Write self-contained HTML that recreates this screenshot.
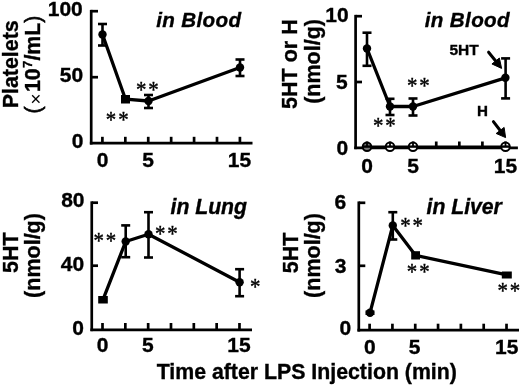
<!DOCTYPE html>
<html><head><meta charset="utf-8"><title>LPS figure</title>
<style>html,body{margin:0;padding:0;background:#fff;}svg{display:block;}</style></head>
<body><svg width="520" height="385" viewBox="0 0 520 385">
<rect width="520" height="385" fill="#fff"/>
<line x1="91.2" y1="9.85" x2="91.2" y2="144.55" stroke="#000" stroke-width="2.7"/>
<line x1="89.85" y1="143.2" x2="252.5" y2="143.2" stroke="#000" stroke-width="2.7"/>
<line x1="91.2" y1="11.2" x2="98" y2="11.2" stroke="#000" stroke-width="2.7"/>
<line x1="91.2" y1="77.2" x2="98" y2="77.2" stroke="#000" stroke-width="2.7"/>
<line x1="102.40" y1="136.8" x2="102.40" y2="143.2" stroke="#000" stroke-width="2.7"/>
<line x1="125.32" y1="136.8" x2="125.32" y2="143.2" stroke="#000" stroke-width="2.7"/>
<line x1="148.24" y1="136.8" x2="148.24" y2="143.2" stroke="#000" stroke-width="2.7"/>
<line x1="171.16" y1="136.8" x2="171.16" y2="143.2" stroke="#000" stroke-width="2.7"/>
<line x1="194.08" y1="136.8" x2="194.08" y2="143.2" stroke="#000" stroke-width="2.7"/>
<line x1="217.00" y1="136.8" x2="217.00" y2="143.2" stroke="#000" stroke-width="2.7"/>
<line x1="239.92" y1="136.8" x2="239.92" y2="143.2" stroke="#000" stroke-width="2.7"/>
<text x="82.8" y="16" font-family="Liberation Sans, Arial, Helvetica, sans-serif" font-weight="bold" font-size="21.0" text-anchor="end" stroke="#000" stroke-width="0.35" >100</text>
<text x="83.2" y="82.3" font-family="Liberation Sans, Arial, Helvetica, sans-serif" font-weight="bold" font-size="21.0" text-anchor="end" stroke="#000" stroke-width="0.35" >50</text>
<text x="83.5" y="148.3" font-family="Liberation Sans, Arial, Helvetica, sans-serif" font-weight="bold" font-size="21.0" text-anchor="end" stroke="#000" stroke-width="0.35" >0</text>
<text x="102.5" y="166.8" font-family="Liberation Sans, Arial, Helvetica, sans-serif" font-weight="bold" font-size="21.0" text-anchor="middle" stroke="#000" stroke-width="0.35" >0</text>
<text x="148" y="166.8" font-family="Liberation Sans, Arial, Helvetica, sans-serif" font-weight="bold" font-size="21.0" text-anchor="middle" stroke="#000" stroke-width="0.35" >5</text>
<text x="239.5" y="166.8" font-family="Liberation Sans, Arial, Helvetica, sans-serif" font-weight="bold" font-size="21.0" text-anchor="middle" stroke="#000" stroke-width="0.35" >15</text>
<text x="156.2" y="27" font-family="Liberation Sans, Arial, Helvetica, sans-serif" font-weight="bold" font-style="italic" font-size="20.6" letter-spacing="0.35" stroke="#000" stroke-width="0.35">in Blood</text>
<polyline points="102.5,34.5 125.5,99.2 148.5,101 240,67.5" fill="none" stroke="#000" stroke-width="3.3" stroke-linejoin="round"/>
<line x1="102.5" y1="24" x2="102.5" y2="45.5" stroke="#000" stroke-width="2.6"/>
<line x1="98.00" y1="24" x2="107.00" y2="24" stroke="#000" stroke-width="2.6"/>
<line x1="98.00" y1="45.5" x2="107.00" y2="45.5" stroke="#000" stroke-width="2.6"/>
<circle cx="102.5" cy="34.5" r="4.2" fill="#000"/>
<rect x="121" y="95" width="9.00" height="8.50" fill="#000"/>
<line x1="148.5" y1="95" x2="148.5" y2="108" stroke="#000" stroke-width="2.6"/>
<line x1="144.00" y1="95" x2="153.00" y2="95" stroke="#000" stroke-width="2.6"/>
<line x1="144.00" y1="108" x2="153.00" y2="108" stroke="#000" stroke-width="2.6"/>
<circle cx="148.5" cy="101" r="4.2" fill="#000"/>
<line x1="240" y1="59.5" x2="240" y2="76" stroke="#000" stroke-width="2.6"/>
<line x1="235.50" y1="59.5" x2="244.50" y2="59.5" stroke="#000" stroke-width="2.6"/>
<line x1="235.50" y1="76" x2="244.50" y2="76" stroke="#000" stroke-width="2.6"/>
<circle cx="240" cy="67.5" r="4.2" fill="#000"/>
<text transform="translate(105.80,126.80) scale(0.95,1.08)" font-family="Liberation Serif, Times New Roman, serif" font-size="22" letter-spacing="2" stroke="#000" stroke-width="0.4">**</text>
<text transform="translate(136.00,96.80) scale(0.95,1.08)" font-family="Liberation Serif, Times New Roman, serif" font-size="22" letter-spacing="2" stroke="#000" stroke-width="0.4">**</text>
<text transform="translate(17.5,64.3) rotate(-90)" font-family="Liberation Sans, Arial, Helvetica, sans-serif" font-weight="bold" font-size="21.4" text-anchor="middle" stroke="#000" stroke-width="0.35">Platelets</text>
<text transform="translate(40.3,113.5) rotate(-90)" font-family="Liberation Sans, Arial, Helvetica, sans-serif" font-weight="bold" font-size="21.3" stroke="#000" stroke-width="0.35"><tspan font-weight="normal" stroke-width="0.6">(</tspan><tspan font-weight="normal" stroke-width="0" font-size="19" dy="1.7" dx="2.0">×</tspan><tspan dy="-1.7" dx="1.3">10</tspan><tspan font-size="12.5" dy="-8.2" dx="0.6">7</tspan><tspan dy="8.2" dx="0.2">/mL</tspan><tspan font-weight="normal" stroke-width="0.6">)</tspan></text>
<line x1="355.6" y1="14.85" x2="355.6" y2="149.15" stroke="#000" stroke-width="2.7"/>
<line x1="354.25" y1="147.8" x2="517.9" y2="147.8" stroke="#000" stroke-width="2.7"/>
<line x1="355.6" y1="16.2" x2="362" y2="16.2" stroke="#000" stroke-width="2.7"/>
<line x1="355.6" y1="82" x2="362" y2="82" stroke="#000" stroke-width="2.7"/>
<line x1="367.00" y1="141.5" x2="367.00" y2="147.8" stroke="#000" stroke-width="2.7"/>
<line x1="390.08" y1="141.5" x2="390.08" y2="147.8" stroke="#000" stroke-width="2.7"/>
<line x1="413.16" y1="141.5" x2="413.16" y2="147.8" stroke="#000" stroke-width="2.7"/>
<line x1="436.24" y1="141.5" x2="436.24" y2="147.8" stroke="#000" stroke-width="2.7"/>
<line x1="459.32" y1="141.5" x2="459.32" y2="147.8" stroke="#000" stroke-width="2.7"/>
<line x1="482.40" y1="141.5" x2="482.40" y2="147.8" stroke="#000" stroke-width="2.7"/>
<line x1="505.48" y1="141.5" x2="505.48" y2="147.8" stroke="#000" stroke-width="2.7"/>
<text x="348.6" y="22" font-family="Liberation Sans, Arial, Helvetica, sans-serif" font-weight="bold" font-size="21.0" text-anchor="end" stroke="#000" stroke-width="0.35" >10</text>
<text x="347.8" y="88.6" font-family="Liberation Sans, Arial, Helvetica, sans-serif" font-weight="bold" font-size="21.0" text-anchor="end" stroke="#000" stroke-width="0.35" >5</text>
<text x="348.2" y="154.6" font-family="Liberation Sans, Arial, Helvetica, sans-serif" font-weight="bold" font-size="21.0" text-anchor="end" stroke="#000" stroke-width="0.35" >0</text>
<text x="367" y="172.9" font-family="Liberation Sans, Arial, Helvetica, sans-serif" font-weight="bold" font-size="21.0" text-anchor="middle" stroke="#000" stroke-width="0.35" >0</text>
<text x="413" y="172.9" font-family="Liberation Sans, Arial, Helvetica, sans-serif" font-weight="bold" font-size="21.0" text-anchor="middle" stroke="#000" stroke-width="0.35" >5</text>
<text x="505.5" y="172.9" font-family="Liberation Sans, Arial, Helvetica, sans-serif" font-weight="bold" font-size="21.0" text-anchor="middle" stroke="#000" stroke-width="0.35" >15</text>
<text x="424.8" y="27" font-family="Liberation Sans, Arial, Helvetica, sans-serif" font-weight="bold" font-style="italic" font-size="20.6" letter-spacing="0.35" stroke="#000" stroke-width="0.35">in Blood</text>
<polyline points="367,48.5 390,106.5 413,106.5 505.5,77.8" fill="none" stroke="#000" stroke-width="3.3" stroke-linejoin="round"/>
<line x1="367" y1="32.7" x2="367" y2="65.8" stroke="#000" stroke-width="2.6"/>
<line x1="362.50" y1="32.7" x2="371.50" y2="32.7" stroke="#000" stroke-width="2.6"/>
<line x1="362.50" y1="65.8" x2="371.50" y2="65.8" stroke="#000" stroke-width="2.6"/>
<circle cx="367" cy="48.5" r="4.2" fill="#000"/>
<line x1="390" y1="98.8" x2="390" y2="115" stroke="#000" stroke-width="2.6"/>
<line x1="385.50" y1="98.8" x2="394.50" y2="98.8" stroke="#000" stroke-width="2.6"/>
<line x1="385.50" y1="115" x2="394.50" y2="115" stroke="#000" stroke-width="2.6"/>
<circle cx="390" cy="106.5" r="4.2" fill="#000"/>
<line x1="413" y1="98.5" x2="413" y2="115.5" stroke="#000" stroke-width="2.6"/>
<line x1="408.50" y1="98.5" x2="417.50" y2="98.5" stroke="#000" stroke-width="2.6"/>
<line x1="408.50" y1="115.5" x2="417.50" y2="115.5" stroke="#000" stroke-width="2.6"/>
<circle cx="413" cy="106.5" r="4.2" fill="#000"/>
<line x1="505.6" y1="58.4" x2="505.6" y2="98.4" stroke="#000" stroke-width="2.6"/>
<line x1="501.10" y1="58.4" x2="510.10" y2="58.4" stroke="#000" stroke-width="2.6"/>
<line x1="501.10" y1="98.4" x2="510.10" y2="98.4" stroke="#000" stroke-width="2.6"/>
<circle cx="505.4" cy="77.8" r="4.2" fill="#000"/>
<polyline points="367,146.6 505.5,146.6" fill="none" stroke="#000" stroke-width="2.4"/>
<circle cx="367" cy="146.8" r="4.3" fill="#777" stroke="#000" stroke-width="2"/>
<line x1="367" y1="142" x2="367" y2="146.6" stroke="#000" stroke-width="1.8"/>
<line x1="363" y1="146.6" x2="371" y2="146.6" stroke="#000" stroke-width="2.4"/>
<circle cx="390" cy="146.8" r="4.3" fill="#fff" stroke="#000" stroke-width="2"/>
<line x1="390" y1="142" x2="390" y2="146.6" stroke="#000" stroke-width="1.8"/>
<line x1="386" y1="146.6" x2="394" y2="146.6" stroke="#000" stroke-width="2.4"/>
<circle cx="413" cy="146.8" r="4.3" fill="#fff" stroke="#000" stroke-width="2"/>
<line x1="413" y1="142" x2="413" y2="146.6" stroke="#000" stroke-width="1.8"/>
<line x1="409" y1="146.6" x2="417" y2="146.6" stroke="#000" stroke-width="2.4"/>
<circle cx="505.5" cy="146.8" r="4.3" fill="#fff" stroke="#000" stroke-width="2"/>
<line x1="505.5" y1="142" x2="505.5" y2="146.6" stroke="#000" stroke-width="1.8"/>
<line x1="501.5" y1="146.6" x2="509.5" y2="146.6" stroke="#000" stroke-width="2.4"/>
<text transform="translate(373.00,132.50) scale(0.95,1.08)" font-family="Liberation Serif, Times New Roman, serif" font-size="22" letter-spacing="2" stroke="#000" stroke-width="0.4">**</text>
<text transform="translate(407.00,93.00) scale(0.95,1.08)" font-family="Liberation Serif, Times New Roman, serif" font-size="22" letter-spacing="2" stroke="#000" stroke-width="0.4">**</text>
<text x="449.4" y="55.2" font-family="Liberation Sans, Arial, Helvetica, sans-serif" font-weight="bold" font-size="15.5" text-anchor="start" stroke="#000" stroke-width="0.35" >5HT</text>
<text x="476.9" y="116" font-family="Liberation Sans, Arial, Helvetica, sans-serif" font-weight="bold" font-size="15.2" text-anchor="start" stroke="#000" stroke-width="0.35" >H</text>
<line x1="488.6" y1="52.2" x2="496.91" y2="62.55" stroke="#000" stroke-width="3" stroke-linecap="round"/>
<polygon points="501.6,68.4 491.95,63.96 499.36,58.02" fill="#000" stroke="#000" stroke-width="1" stroke-linejoin="round"/>
<line x1="493.4" y1="121.6" x2="501.36" y2="132.03" stroke="#000" stroke-width="3" stroke-linecap="round"/>
<polygon points="505.6,137.6 496.17,133.47 504.12,127.41" fill="#000" stroke="#000" stroke-width="1" stroke-linejoin="round"/>
<text transform="translate(297,64.1) rotate(-90)" font-family="Liberation Sans, Arial, Helvetica, sans-serif" font-weight="bold" font-size="21.5" text-anchor="middle" stroke="#000" stroke-width="0.35">5HT or H</text>
<text transform="translate(320,61.4) rotate(-90)" font-family="Liberation Sans, Arial, Helvetica, sans-serif" font-weight="bold" font-size="21.5" text-anchor="middle" stroke="#000" stroke-width="0.35">(nmol/g)</text>
<line x1="91.75" y1="201.35" x2="91.75" y2="331.15" stroke="#000" stroke-width="2.7"/>
<line x1="90.40" y1="329.8" x2="252" y2="329.8" stroke="#000" stroke-width="2.7"/>
<line x1="91.75" y1="202.7" x2="98" y2="202.7" stroke="#000" stroke-width="2.7"/>
<line x1="91.75" y1="265.7" x2="98" y2="265.7" stroke="#000" stroke-width="2.7"/>
<line x1="102.50" y1="323" x2="102.50" y2="329.8" stroke="#000" stroke-width="2.7"/>
<line x1="125.33" y1="323" x2="125.33" y2="329.8" stroke="#000" stroke-width="2.7"/>
<line x1="148.16" y1="323" x2="148.16" y2="329.8" stroke="#000" stroke-width="2.7"/>
<line x1="170.99" y1="323" x2="170.99" y2="329.8" stroke="#000" stroke-width="2.7"/>
<line x1="193.82" y1="323" x2="193.82" y2="329.8" stroke="#000" stroke-width="2.7"/>
<line x1="216.65" y1="323" x2="216.65" y2="329.8" stroke="#000" stroke-width="2.7"/>
<line x1="239.48" y1="323" x2="239.48" y2="329.8" stroke="#000" stroke-width="2.7"/>
<text x="84.5" y="207.3" font-family="Liberation Sans, Arial, Helvetica, sans-serif" font-weight="bold" font-size="21.0" text-anchor="end" stroke="#000" stroke-width="0.35" >80</text>
<text x="84.2" y="271.3" font-family="Liberation Sans, Arial, Helvetica, sans-serif" font-weight="bold" font-size="21.0" text-anchor="end" stroke="#000" stroke-width="0.35" >40</text>
<text x="84" y="334.8" font-family="Liberation Sans, Arial, Helvetica, sans-serif" font-weight="bold" font-size="21.0" text-anchor="end" stroke="#000" stroke-width="0.35" >0</text>
<text x="102.6" y="352.4" font-family="Liberation Sans, Arial, Helvetica, sans-serif" font-weight="bold" font-size="21.0" text-anchor="middle" stroke="#000" stroke-width="0.35" >0</text>
<text x="147.9" y="352.4" font-family="Liberation Sans, Arial, Helvetica, sans-serif" font-weight="bold" font-size="21.0" text-anchor="middle" stroke="#000" stroke-width="0.35" >5</text>
<text x="238.9" y="352.4" font-family="Liberation Sans, Arial, Helvetica, sans-serif" font-weight="bold" font-size="21.0" text-anchor="middle" stroke="#000" stroke-width="0.35" >15</text>
<text x="170.5" y="213.8" font-family="Liberation Sans, Arial, Helvetica, sans-serif" font-weight="bold" font-style="italic" font-size="21.2" stroke="#000" stroke-width="0.35">in Lung</text>
<polyline points="103,299.7 125.7,241.5 148.5,234.2 239.6,282.2" fill="none" stroke="#000" stroke-width="3.3" stroke-linejoin="round"/>
<rect x="98.2" y="296" width="9.60" height="7.50" fill="#000"/>
<line x1="125.7" y1="225.4" x2="125.7" y2="257.2" stroke="#000" stroke-width="2.6"/>
<line x1="121.20" y1="225.4" x2="130.20" y2="225.4" stroke="#000" stroke-width="2.6"/>
<line x1="121.20" y1="257.2" x2="130.20" y2="257.2" stroke="#000" stroke-width="2.6"/>
<circle cx="125.7" cy="241.5" r="4.2" fill="#000"/>
<line x1="148.5" y1="212.2" x2="148.5" y2="257.5" stroke="#000" stroke-width="2.6"/>
<line x1="144.00" y1="212.2" x2="153.00" y2="212.2" stroke="#000" stroke-width="2.6"/>
<line x1="144.00" y1="257.5" x2="153.00" y2="257.5" stroke="#000" stroke-width="2.6"/>
<circle cx="148.5" cy="234.2" r="4.2" fill="#000"/>
<line x1="239.6" y1="269.2" x2="239.6" y2="296.2" stroke="#000" stroke-width="2.6"/>
<line x1="235.10" y1="269.2" x2="244.10" y2="269.2" stroke="#000" stroke-width="2.6"/>
<line x1="235.10" y1="296.2" x2="244.10" y2="296.2" stroke="#000" stroke-width="2.6"/>
<circle cx="239.6" cy="282.2" r="4.2" fill="#000"/>
<text transform="translate(93.50,248.20) scale(0.95,1.08)" font-family="Liberation Serif, Times New Roman, serif" font-size="22" letter-spacing="2" stroke="#000" stroke-width="0.4">**</text>
<text transform="translate(155.00,240.50) scale(0.95,1.08)" font-family="Liberation Serif, Times New Roman, serif" font-size="22" letter-spacing="2" stroke="#000" stroke-width="0.4">**</text>
<text transform="translate(250.00,294.30) scale(0.95,1.08)" font-family="Liberation Serif, Times New Roman, serif" font-size="22" letter-spacing="2" stroke="#000" stroke-width="0.4">*</text>
<text transform="translate(17.5,252.75) rotate(-90)" font-family="Liberation Sans, Arial, Helvetica, sans-serif" font-weight="bold" font-size="21.5" text-anchor="middle" stroke="#000" stroke-width="0.35">5HT</text>
<text transform="translate(40,255.5) rotate(-90)" font-family="Liberation Sans, Arial, Helvetica, sans-serif" font-weight="bold" font-size="21.5" text-anchor="middle" stroke="#000" stroke-width="0.35">(nmol/g)</text>
<line x1="358.8" y1="201.45" x2="358.8" y2="331.55" stroke="#000" stroke-width="2.7"/>
<line x1="357.45" y1="330.2" x2="519" y2="330.2" stroke="#000" stroke-width="2.7"/>
<line x1="358.8" y1="202.8" x2="365.3" y2="202.8" stroke="#000" stroke-width="2.7"/>
<line x1="358.8" y1="265.8" x2="365.3" y2="265.8" stroke="#000" stroke-width="2.7"/>
<line x1="369.60" y1="323.7" x2="369.60" y2="330.2" stroke="#000" stroke-width="2.7"/>
<line x1="392.42" y1="323.7" x2="392.42" y2="330.2" stroke="#000" stroke-width="2.7"/>
<line x1="415.24" y1="323.7" x2="415.24" y2="330.2" stroke="#000" stroke-width="2.7"/>
<line x1="438.06" y1="323.7" x2="438.06" y2="330.2" stroke="#000" stroke-width="2.7"/>
<line x1="460.88" y1="323.7" x2="460.88" y2="330.2" stroke="#000" stroke-width="2.7"/>
<line x1="483.70" y1="323.7" x2="483.70" y2="330.2" stroke="#000" stroke-width="2.7"/>
<line x1="506.52" y1="323.7" x2="506.52" y2="330.2" stroke="#000" stroke-width="2.7"/>
<text x="346.2" y="208.8" font-family="Liberation Sans, Arial, Helvetica, sans-serif" font-weight="bold" font-size="21.0" text-anchor="end" stroke="#000" stroke-width="0.35" >6</text>
<text x="346.5" y="272.6" font-family="Liberation Sans, Arial, Helvetica, sans-serif" font-weight="bold" font-size="21.0" text-anchor="end" stroke="#000" stroke-width="0.35" >3</text>
<text x="351.2" y="334.8" font-family="Liberation Sans, Arial, Helvetica, sans-serif" font-weight="bold" font-size="21.0" text-anchor="end" stroke="#000" stroke-width="0.35" >0</text>
<text x="369.8" y="353.6" font-family="Liberation Sans, Arial, Helvetica, sans-serif" font-weight="bold" font-size="21.0" text-anchor="middle" stroke="#000" stroke-width="0.35" >0</text>
<text x="414.6" y="353.6" font-family="Liberation Sans, Arial, Helvetica, sans-serif" font-weight="bold" font-size="21.0" text-anchor="middle" stroke="#000" stroke-width="0.35" >5</text>
<text x="506.7" y="353.6" font-family="Liberation Sans, Arial, Helvetica, sans-serif" font-weight="bold" font-size="21.0" text-anchor="middle" stroke="#000" stroke-width="0.35" >15</text>
<text x="426.5" y="213.5" font-family="Liberation Sans, Arial, Helvetica, sans-serif" font-weight="bold" font-style="italic" font-size="21.2" stroke="#000" stroke-width="0.35">in Liver</text>
<polyline points="370,312.8 392.8,225.5 415.6,255.4 506.8,274.9" fill="none" stroke="#000" stroke-width="3.3" stroke-linejoin="round"/>
<rect x="365.5" y="310.5" width="9.00" height="4.50" fill="#000"/>
<circle cx="370" cy="312.8" r="4.2" fill="#000"/>
<line x1="392.8" y1="212.2" x2="392.8" y2="239.5" stroke="#000" stroke-width="2.6"/>
<line x1="388.30" y1="212.2" x2="397.30" y2="212.2" stroke="#000" stroke-width="2.6"/>
<line x1="388.30" y1="239.5" x2="397.30" y2="239.5" stroke="#000" stroke-width="2.6"/>
<circle cx="392.8" cy="225.5" r="4.2" fill="#000"/>
<rect x="411.2" y="251.2" width="8.80" height="8.30" fill="#000"/>
<rect x="501.8" y="271.5" width="10.00" height="7.00" fill="#000"/>
<text transform="translate(400.20,232.50) scale(0.95,1.08)" font-family="Liberation Serif, Times New Roman, serif" font-size="22" letter-spacing="2" stroke="#000" stroke-width="0.4">**</text>
<text transform="translate(406.80,278.50) scale(0.95,1.08)" font-family="Liberation Serif, Times New Roman, serif" font-size="22" letter-spacing="2" stroke="#000" stroke-width="0.4">**</text>
<text transform="translate(497.50,297.50) scale(0.95,1.08)" font-family="Liberation Serif, Times New Roman, serif" font-size="22" letter-spacing="2" stroke="#000" stroke-width="0.4">**</text>
<text transform="translate(297.5,252.9) rotate(-90)" font-family="Liberation Sans, Arial, Helvetica, sans-serif" font-weight="bold" font-size="21.5" text-anchor="middle" stroke="#000" stroke-width="0.35">5HT</text>
<text transform="translate(320,255.5) rotate(-90)" font-family="Liberation Sans, Arial, Helvetica, sans-serif" font-weight="bold" font-size="21.5" text-anchor="middle" stroke="#000" stroke-width="0.35">(nmol/g)</text>
<text x="156.7" y="378.5" font-family="Liberation Sans, Arial, Helvetica, sans-serif" font-weight="bold" font-size="21.3" text-anchor="start" stroke="#000" stroke-width="0.35" >Time after LPS Injection (min)</text>
</svg></body></html>
